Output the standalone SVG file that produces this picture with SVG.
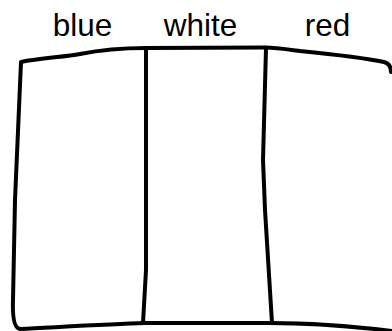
<svg xmlns="http://www.w3.org/2000/svg" width="392" height="331" viewBox="0 0 392 331">
  <style>
    .ln { fill: none; stroke: #000; stroke-width: 4; stroke-linecap: round; stroke-linejoin: round; }
    .lbl { font-family: "Liberation Sans", Arial, sans-serif; font-size: 31.5px; fill: #000; text-anchor: middle; }
  </style>
  <rect width="392" height="331" fill="#fff"/>
  <g id="labels">
    <text class="lbl" x="82.5" y="36">blue</text>
    <text class="lbl" x="200.5" y="36">white</text>
    <text class="lbl" x="327.5" y="36">red</text>
  </g>
  <g id="outline">
    <path class="ln" d="M391,72 Q391,64 384,62 C365,58 340,55 300,51 C285,49 275,47.5 265,47.5 L146,48 C120,48 100,50 80,54 C65,57 40,58 21,62 L15,200 L13,300 Q12,328 20,329 C60,327 110,324 145,323 L270,323 C310,323 350,326 392,331"/>
  </g>
  <g id="dividers">
    <path class="ln" d="M146,48 L146,270 L143,323"/>
    <path class="ln" d="M266,48 L263,160 L265,210 L272,323"/>
  </g>
</svg>
